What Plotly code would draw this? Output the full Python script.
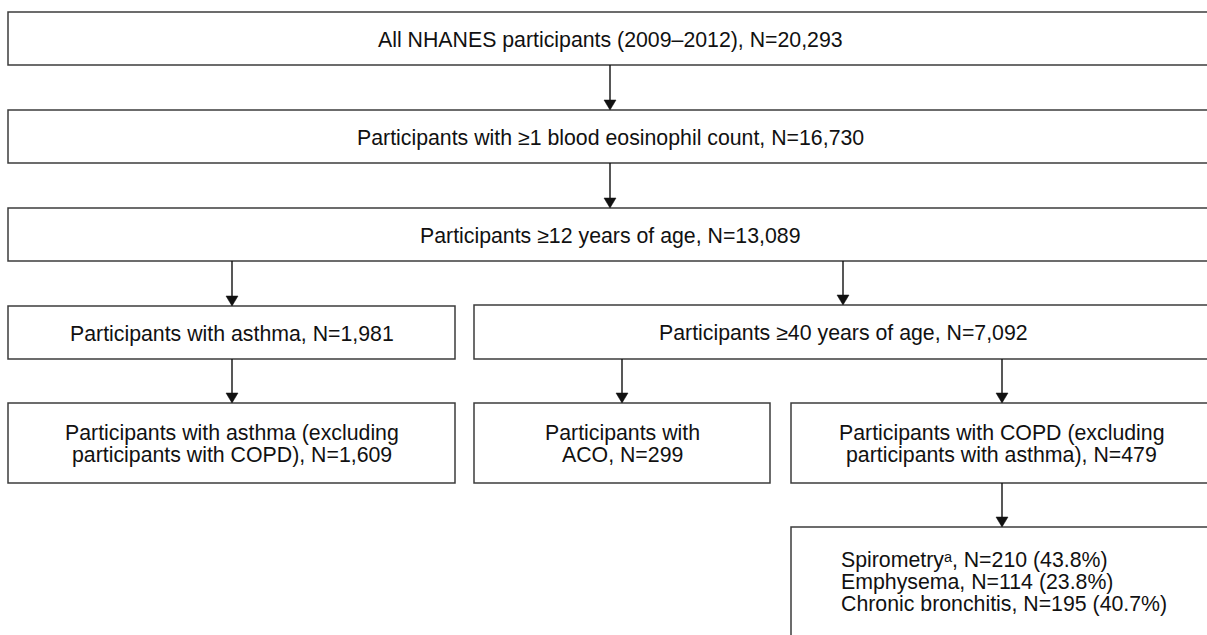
import plotly.graph_objects as go

# ---- data ----
stage_labels = [
    "All NHANES participants (2009–2012)",
    "Participants with ≥1 blood eosinophil count",
    "Participants ≥12 years of age",
    "Participants with asthma",
    "Participants ≥40 years of age",
]
stage_n = ["20,293", "16,730", "13,089", "1,981", "7,092"]

final_lines = [
    ["Participants with asthma (excluding", "participants with COPD), N=1,609"],
    ["Participants with", "ACO, N=299"],
    ["Participants with COPD (excluding", "participants with asthma), N=479"],
]

copd_types = ["Spirometryᵃ", "Emphysema", "Chronic bronchitis"]
copd_n = [210, 114, 195]
copd_pct = [43.8, 23.8, 40.7]

# ---- layout (pixel space) ----
W, H = 1207, 635
FONT = dict(family="Liberation Sans, Arial, sans-serif", size=21.3, color="#111111")
BOX_LINE = dict(color="#3c3c3c", width=1.5)

# boxes: x0, x1, y0, y1
single_boxes = [
    (8, 1212, 12, 65),
    (8, 1212, 110, 163),
    (8, 1212, 208, 261),
    (8, 455, 306, 359),
    (474, 1212, 305, 359),
]
double_boxes = [
    (8, 455, 403, 483),
    (474, 770, 403, 483),
    (791, 1212, 403, 483),
]
list_box = (791, 1212, 527, 660)

arrows = [  # x, y_start, y_end
    (610, 65, 110),
    (610, 163, 208),
    (232, 261, 306),
    (843, 261, 305),
    (232, 359, 403),
    (622, 359, 403),
    (1002, 359, 403),
    (1002, 483, 527),
]

fig = go.Figure()
shapes = []
annotations = []

for (x0, x1, y0, y1), lab, n in zip(single_boxes, stage_labels, stage_n):
    shapes.append(dict(type="rect", x0=x0, x1=x1, y0=y0, y1=y1, line=BOX_LINE,
                       fillcolor="white", layer="below"))
    annotations.append(dict(x=(x0 + x1) / 2, y=(y0 + y1) / 2 + 1, text=f"{lab}, N={n}",
                            showarrow=False, xanchor="center", yanchor="middle", font=FONT))

for (x0, x1, y0, y1), lines in zip(double_boxes, final_lines):
    shapes.append(dict(type="rect", x0=x0, x1=x1, y0=y0, y1=y1, line=BOX_LINE,
                       fillcolor="white", layer="below"))
    cy = (y0 + y1) / 2
    for i, t in enumerate(lines):
        annotations.append(dict(x=(x0 + x1) / 2, y=cy - 11 + 22 * i + 1, text=t,
                                showarrow=False, xanchor="center", yanchor="middle", font=FONT))

x0, x1, y0, y1 = list_box
shapes.append(dict(type="rect", x0=x0, x1=x1, y0=y0, y1=y1, line=BOX_LINE,
                   fillcolor="white", layer="below"))
for i, (t, n, p) in enumerate(zip(copd_types, copd_n, copd_pct)):
    annotations.append(dict(x=839, y=560 + 22 * i, text=f"{t}, N={n} ({p:.1f}%)",
                            showarrow=False, xanchor="left", yanchor="middle", font=FONT))

for x, ys, ye in arrows:
    shapes.append(dict(type="line", x0=x, x1=x, y0=ys, y1=ye - 9,
                       line=dict(color="#111111", width=1.4)))
    shapes.append(dict(type="path", path=f"M {x-6},{ye-10} L {x+6},{ye-10} L {x},{ye} Z",
                       fillcolor="#111111", line=dict(color="#111111", width=0.5)))

fig.update_layout(
    width=W, height=H,
    margin=dict(l=0, r=0, t=0, b=0),
    paper_bgcolor="white", plot_bgcolor="white",
    xaxis=dict(range=[0, W], visible=False, fixedrange=True),
    yaxis=dict(range=[H, 0], visible=False, fixedrange=True),
    shapes=shapes, annotations=annotations,
    showlegend=False,
)

fig.write_html(
    "out.html",
    config={"displayModeBar": False},
    post_script="document.body.style.margin='0';document.body.style.overflow='hidden';",
)
